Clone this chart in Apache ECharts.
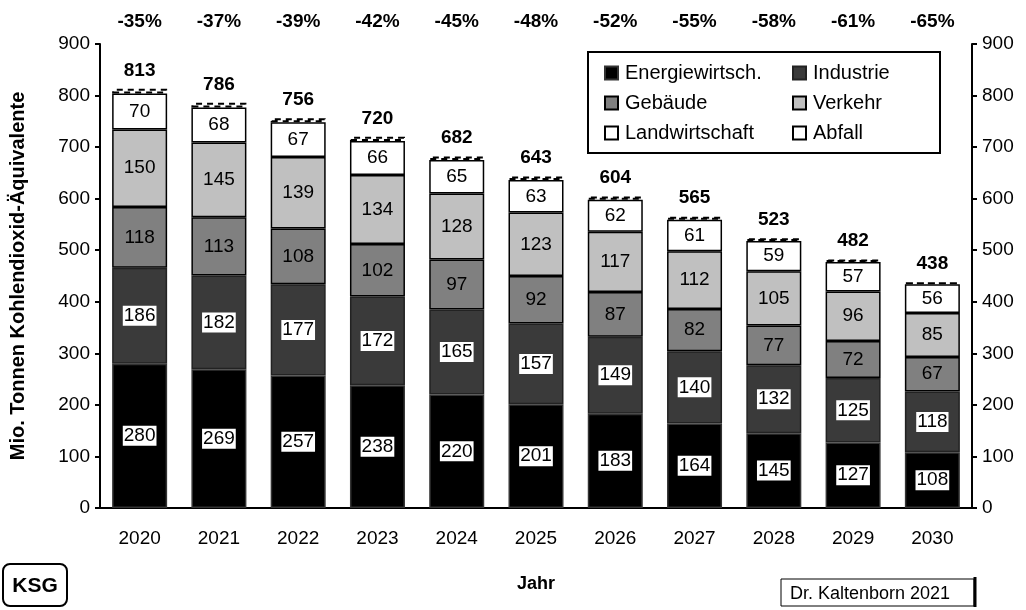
<!DOCTYPE html>
<html>
<head>
<meta charset="utf-8">
<script src="https://cdn.jsdelivr.net/npm/echarts@6/dist/echarts.min.js"></script>
<style>
html, body { margin: 0; padding: 0; background: #fff; }
#chart { width: 1026px; height: 610px; }
</style>
</head>
<body>
<div id="chart"></div>
<script>
const years = ['2020', '2021', '2022', '2023', '2024', '2025', '2026', '2027', '2028', '2029', '2030']
const percents = ['-35%', '-37%', '-39%', '-42%', '-45%', '-48%', '-52%', '-55%', '-58%', '-61%', '-65%']
const totals = [813, 786, 756, 720, 682, 643, 604, 565, 523, 482, 438]
const energie = [280, 269, 257, 238, 220, 201, 183, 164, 145, 127, 108]
const industrie = [186, 182, 177, 172, 165, 157, 149, 140, 132, 125, 118]
const gebaeude = [118, 113, 108, 102, 97, 92, 87, 82, 77, 72, 67]
const verkehr = [150, 145, 139, 134, 128, 123, 117, 112, 105, 96, 85]
const landwirtschaft = [70, 68, 67, 66, 65, 63, 62, 61, 59, 57, 56]
const abfall = [9, 9, 8, 8, 7, 7, 6, 6, 5, 5, 4]

const font = 'Liberation Sans, Arial, sans-serif'

const chart = echarts.init(document.getElementById('chart'))

const boxLabel = {
	show: true,
	color: '#000',
	fontSize: 19,
	fontFamily: font,
	backgroundColor: '#fff',
	padding: [1, 1, 0, 1]
}
const plainLabel = {
	show: true,
	color: '#000',
	fontSize: 19,
	fontFamily: font
}

const seg = (name, data, color, border, label) => ({
	name: name,
	type: 'bar',
	stack: 'total',
	barWidth: 55,
	data: data,
	itemStyle: { color: color, borderColor: border, borderWidth: 1.5 },
	label: label,
	emphasis: { disabled: true }
})

const legendText = { color: '#000', fontSize: 20, fontFamily: font, padding: [0, 0, 0, 2] }

chart.setOption({
	animation: false,
	textStyle: { fontFamily: font },
	grid: { left: 97, right: 54, top: 44, bottom: 102 },
	legend: [
		{
			data: ['Energiewirtsch.', 'Gebäude', 'Landwirtschaft'],
			orient: 'vertical',
			left: 599,
			top: 58,
			icon: 'rect',
			itemWidth: 13,
			itemHeight: 13,
			itemGap: 10,
			textStyle: legendText,
			selectedMode: false
		},
		{
			data: ['Industrie', 'Verkehr', 'Abfall'],
			orient: 'vertical',
			left: 787,
			top: 58,
			icon: 'rect',
			itemWidth: 13,
			itemHeight: 13,
			itemGap: 10,
			textStyle: legendText,
			selectedMode: false
		}
	],
	graphic: [
		{
			type: 'rect',
			shape: { x: 588, y: 52, width: 352, height: 101 },
			style: { fill: 'none', stroke: '#000', lineWidth: 2 },
			z: 10
		},
		{
			type: 'rect',
			shape: { x: 3, y: 564, width: 64, height: 42, r: 7 },
			style: { fill: '#fff', stroke: '#000', lineWidth: 2 }
		},
		{
			type: 'text',
			x: 35,
			y: 586,
			style: { text: 'KSG', font: 'bold 21px ' + font, fill: '#000', align: 'center', verticalAlign: 'middle' }
		},
		{
			type: 'rect',
			shape: { x: 781, y: 579, width: 193, height: 27 },
			style: { fill: '#fff', stroke: '#000', lineWidth: 1 }
		},
		{
			type: 'line',
			shape: { x1: 975, y1: 577, x2: 975, y2: 607 },
			style: { stroke: '#000', lineWidth: 3 }
		},
		{
			type: 'text',
			x: 790,
			y: 594,
			style: { text: 'Dr. Kaltenborn 2021', font: '18px ' + font, fill: '#000', align: 'left', verticalAlign: 'middle' }
		}
	],
	xAxis: [
		{
			type: 'category',
			data: years,
			name: 'Jahr',
			nameLocation: 'middle',
			nameGap: 67,
			nameTextStyle: { color: '#000', fontSize: 18, fontWeight: 'bold' },
			axisLine: { lineStyle: { color: '#000', width: 2 } },
			axisTick: { show: false },
			axisLabel: { color: '#000', fontSize: 19, margin: 21 }
		},
		{
			type: 'category',
			data: percents,
			position: 'top',
			axisLine: { show: false },
			axisTick: { show: false },
			axisLabel: { color: '#000', fontSize: 19, fontWeight: 'bold', margin: 13 }
		}
	],
	yAxis: [
		{
			type: 'value',
			min: 0,
			max: 900,
			interval: 100,
			name: 'Mio. Tonnen Kohlendioxid-Äquivalente',
			nameLocation: 'middle',
			nameGap: 72,
			nameTextStyle: { color: '#000', fontSize: 20, fontWeight: 'bold' },
			axisLine: { show: true, lineStyle: { color: '#000', width: 2 } },
			axisTick: { show: true, length: 5, lineStyle: { color: '#000', width: 2 } },
			axisLabel: { color: '#000', fontSize: 19, margin: 10 },
			splitLine: { show: false }
		},
		{
			type: 'value',
			min: 0,
			max: 900,
			interval: 100,
			position: 'right',
			axisLine: { show: true, lineStyle: { color: '#000', width: 2 } },
			axisTick: { show: true, length: 5, lineStyle: { color: '#000', width: 2 } },
			axisLabel: { color: '#000', fontSize: 19, margin: 10 },
			splitLine: { show: false }
		}
	],
	series: [
		seg('Energiewirtsch.', energie, '#000', '#333', boxLabel),
		seg('Industrie', industrie, '#3a3a3a', '#222', boxLabel),
		seg('Gebäude', gebaeude, '#808080', '#000', plainLabel),
		seg('Verkehr', verkehr, '#c0c0c0', '#000', plainLabel),
		seg('Landwirtschaft', landwirtschaft, '#fff', '#000', plainLabel),
		{
			name: 'Abfall',
			type: 'bar',
			stack: 'total',
			barWidth: 55,
			data: abfall,
			itemStyle: { color: '#fff', borderColor: '#000', borderWidth: 2, borderType: [6, 5] },
			label: {
				show: true,
				position: 'top',
				distance: 9,
				color: '#000',
				fontSize: 19,
				fontWeight: 'bold',
				formatter: (p) => totals[p.dataIndex]
			},
			emphasis: { disabled: true }
		}
	]
})
</script>
</body>
</html>
